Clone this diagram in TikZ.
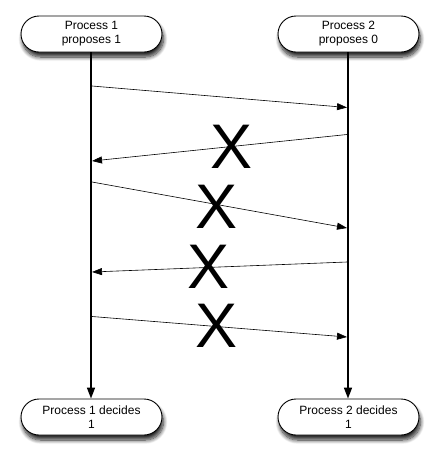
\documentclass[tikz,border=0pt]{standalone}
\usepackage{fontspec}
\setmainfont{Liberation Sans}
\usetikzlibrary{shapes.misc,shadows.blur,arrows.meta}
\tikzset{
  procbox/.style={draw=black, line width=0.9pt, fill=white, rounded rectangle,
    minimum width=141pt, minimum height=36pt, inner sep=0pt, align=center,
    font=\fontsize{12}{14}\selectfont,
    blur shadow={shadow xshift=1.5pt, shadow yshift=-5pt, shadow blur radius=4pt, shadow opacity=85, shadow blur steps=10}},
  life/.style={line width=1.6pt, -{Triangle[length=11pt,width=8pt]}},
  msg/.style={line width=0.6pt, -{Triangle[length=10pt,width=7pt]}},
  cross/.style={font=\fontsize{63}{63}\selectfont, inner sep=0pt}
}
\begin{document}
\begin{tikzpicture}[x=1pt,y=-1pt]
\useasboundingbox (0,0) rectangle (440,459);
\node[procbox] (p1) at (91.5,34) {Process 1\\proposes 1};
\node[procbox] (p2) at (348.5,34) {Process 2\\proposes 0};
\node[procbox] (d1) at (91.5,417) {Process 1 decides\\1};
\node[procbox] (d2) at (348.5,417) {Process 2 decides\\1};
\draw[life] (p1.south -| 91,0) -- (d1.north -| 91,0);
\draw[life] (p2.south -| 348,0) -- (d2.north -| 348,0);
% message endpoints on the lifelines
\coordinate (a1) at (92,86);   \coordinate (b1) at (347,107.5);
\coordinate (a2) at (347,134.5); \coordinate (b2) at (92,161);
\coordinate (a3) at (92,182);  \coordinate (b3) at (347,228);
\coordinate (a4) at (347,262); \coordinate (b4) at (92,272);
\coordinate (a5) at (92,316.5);  \coordinate (b5) at (347,337);
\draw[msg] (a1) -- (b1);
\draw[msg] (a2) -- (b2);
\draw[msg] (a3) -- (b3);
\draw[msg] (a4) -- (b4);
\draw[msg] (a5) -- (b5);
\node[cross] (x1) at (232,147) {X};
\node[cross] (x2) at (217,206.5) {X};
\node[cross] (x3) at (209,267) {X};
\node[cross] (x4) at (217,326) {X};
\end{tikzpicture}
\end{document}
